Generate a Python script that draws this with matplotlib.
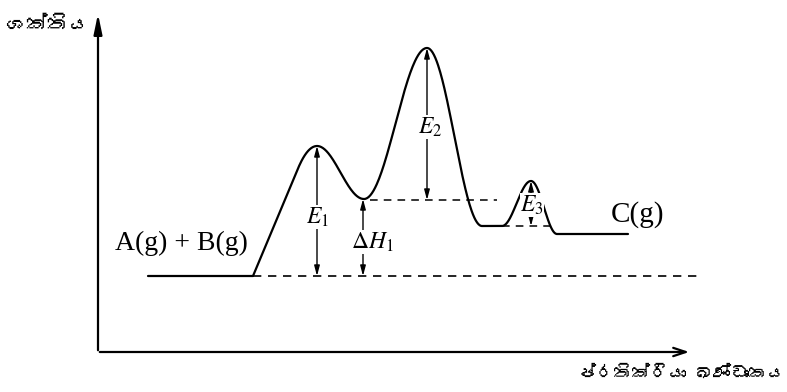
import numpy as np
import matplotlib
matplotlib.use('Agg')
import matplotlib.pyplot as plt
from matplotlib import font_manager
from matplotlib.ft2font import FT2Font

# energy levels (y up, arbitrary units)
level_reactant = 116
level_peak1 = 246
level_int1 = 193
level_peak2 = 344
level_int2 = 166
level_peak3 = 211
level_product = 158

# reaction coordinate of the key points
x_reactant = [148, 253]
x_peak1 = 317
x_int1 = 364
x_peak2 = 427
x_int2 = [482, 502]
x_peak3 = 531
x_product = [557, 628]

# matplotlib cannot shape the zero width joiner, so it is left out
labels_axis = ['ශක්තිය', 'ප්රතික්රියා ඛණ්ඩාංකය']
species = ['A(g) + B(g)', 'C(g)']
arrow_labels = ['$E_1$', r'$\Delta H_1$', '$E_2$', '$E_3$']


def find_sinhala_font():
    for f in font_manager.fontManager.ttflist:
        try:
            ft = FT2Font(f.fname)
            if ft.get_char_index(0x0DC1) != 0:
                return f.name
        except Exception:
            pass
    return None


def ease(x0, y0, x1, y1, kind='cos', n=80):
    t = np.linspace(0, 1, n)
    if kind == 'cos':
        s = (1 - np.cos(np.pi * t)) / 2
    else:
        # straight climb, then a round top
        t0 = 0.7
        k = 2 / (1 + t0)
        c = k / (2 * (1 - t0))
        s = np.where(t < t0, k * t, 1 - c * (1 - t) ** 2)
    return x0 + (x1 - x0) * t, y0 + (y1 - y0) * s


segs = [
    (np.array(x_reactant, float), np.array([level_reactant] * 2, float)),
    ease(x_reactant[1], level_reactant, x_peak1, level_peak1, 'lin'),
    ease(x_peak1, level_peak1, x_int1, level_int1),
    ease(x_int1, level_int1, x_peak2, level_peak2),
    ease(x_peak2, level_peak2, x_int2[0], level_int2),
    (np.array(x_int2, float), np.array([level_int2] * 2, float)),
    ease(x_int2[1], level_int2, x_peak3, level_peak3),
    ease(x_peak3, level_peak3, x_product[0], level_product),
    (np.array(x_product, float), np.array([level_product] * 2, float)),
]
cx = np.concatenate([s[0] for s in segs])
cy = np.concatenate([s[1] for s in segs])

plt.rcParams['mathtext.fontset'] = 'stix'
sin_font = find_sinhala_font()
sin_family = [sin_font, 'DejaVu Sans'] if sin_font else ['DejaVu Sans']

fig = plt.figure(figsize=(7.87, 3.92), dpi=100)
ax = fig.add_axes([0, 0, 1, 1])
ax.set_xlim(0, 787)
ax.set_ylim(0, 392)
ax.axis('off')

# axes with arrows
ax.annotate('', xy=(98, 381), xytext=(98, 39),
            arrowprops=dict(arrowstyle='-|>,head_length=1.2,head_width=0.25', lw=1.6, color='black'))
ax.annotate('', xy=(692, 40), xytext=(97, 40),
            arrowprops=dict(arrowstyle='->,head_length=0.9,head_width=0.3', lw=1.6, color='black'))

# curve
ax.plot(cx, cy, color='black', lw=1.6, solid_capstyle='round')

# dashed reference levels
dash = (0, (5, 4))
ax.plot([x_reactant[1], 697], [level_reactant] * 2, color='black', lw=1.2, linestyle=dash)
ax.plot([x_int1 + 6, 497], [level_int1 - 1] * 2, color='black', lw=1.1, linestyle=dash)
ax.plot([x_int2[1], 555], [level_int2] * 2, color='black', lw=1.1, linestyle=dash)

# energy arrows
arr = dict(arrowstyle='<|-|>,head_length=0.6,head_width=0.16', lw=1.0, color='black', shrinkA=0, shrinkB=0)
arrows = [
    (x_peak1, level_peak1, level_reactant, (318, 175)),
    (x_int1 - 1, level_int1, level_reactant, (372, 150)),
    (x_peak2, level_peak2, level_int1 - 1, (430, 265)),
    (x_peak3, level_peak3, level_int2, (532, 187)),
]
for (x, top, bot, pos), lab in zip(arrows, arrow_labels):
    ax.annotate('', xy=(x, top), xytext=(x, bot), arrowprops=arr)
    ax.text(pos[0], pos[1], lab, fontsize=17, ha='center', va='center',
            bbox=dict(facecolor='white', edgecolor='none', pad=0.3))

# species labels
ax.text(181, 149, species[0], fontsize=20, family='Liberation Serif', ha='center', va='center')
ax.text(611, 177, species[1], fontsize=21, family='Liberation Serif', ha='left', va='center')

# axis titles (Sinhala)
ax.text(6, 367, labels_axis[0], fontsize=15, family=sin_family, ha='left', va='center')
ax.text(785, 19, labels_axis[1], fontsize=13, family=sin_family, ha='right', va='center')

fig.savefig('out.png', dpi=100)
